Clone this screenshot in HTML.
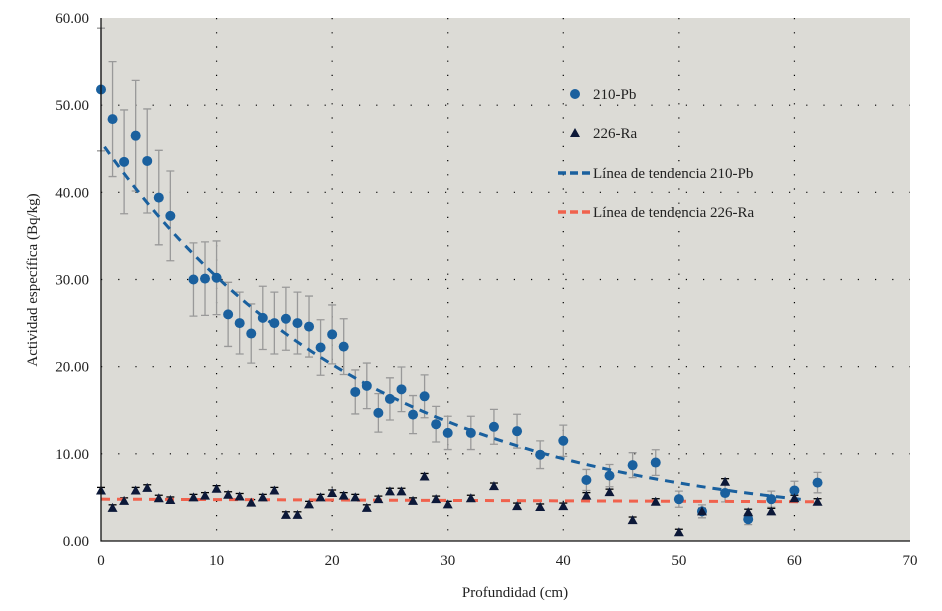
<!DOCTYPE html>
<html><head><meta charset="utf-8"><style>
body{margin:0;background:#fff;width:942px;height:606px;overflow:hidden}
text{font-family:"Liberation Serif",serif;fill:#222}
</style></head><body>
<svg id="chart" width="942" height="606" xmlns="http://www.w3.org/2000/svg">
<rect x="101" y="18" width="809" height="523" fill="#dcdbd6"/>
<g id="grid"></g><g id="marks"></g><g id="axes"></g>
<text x="515" y="597" text-anchor="middle" font-size="15">Profundidad (cm)</text>
<text transform="translate(37,280) rotate(-90)" text-anchor="middle" font-size="15">Actividad específica (Bq/kg)</text>
<g font-size="15">
<circle cx="575" cy="94" r="5" fill="#1a609e"/>
<text x="593" y="99">210-Pb</text>
<path d="M570,137 L575,128 L580,137 Z" fill="#0c1838"/>
<text x="593" y="138">226-Ra</text>
<line x1="558" y1="173" x2="590" y2="173" stroke="#1a609e" stroke-width="3.5" stroke-dasharray="8,4"/>
<text x="593" y="178">Línea de tendencia 210-Pb</text>
<line x1="558" y1="212" x2="590" y2="212" stroke="#f0624d" stroke-width="3.5" stroke-dasharray="8,4"/>
<text x="593" y="217">Línea de tendencia 226-Ra</text>
</g>
</svg>
<script>
const depths=[0,1,2,3,4,5,6,8,9,10,11,12,13,14,15,16,17,18,19,20,21,22,23,24,25,26,27,28,29,30,32,34,36,38,40,42,44,46,48,50,52,54,56,58,60,62];
const pb210=[51.8,48.4,43.5,46.5,43.6,39.4,37.3,30,30.1,30.2,26,25,23.8,25.6,25,25.5,25,24.6,22.2,23.7,22.3,17.1,17.8,14.7,16.3,17.4,14.5,16.6,13.4,12.4,12.4,13.1,12.6,9.9,11.5,7.0,7.5,8.7,9.0,4.8,3.4,5.5,2.5,4.8,5.8,6.7];
const ra226=[5.8,3.8,4.6,5.8,6.1,4.9,4.7,5.0,5.2,6.0,5.3,5.1,4.4,5.0,5.8,3.0,3.0,4.2,5.0,5.5,5.2,5.0,3.8,4.8,5.7,5.7,4.6,7.4,4.8,4.2,4.9,6.3,4.0,3.9,4.0,5.2,5.6,2.4,4.5,1.0,3.4,6.8,3.3,3.4,4.9,4.5];
const xTicks=[0,10,20,30,40,50,60,70];
const yTicks=[0,10,20,30,40,50,60];
const yTickLabels=["0.00","10.00","20.00","30.00","40.00","50.00","60.00"];
const pbTrend=[44.3,0.043,1.5];
const raTrend=[4.8,4.5];
const X=v=>101+v*(809/70), Y=v=>541-v*(523/60);
const NS="http://www.w3.org/2000/svg";
function mk(p,t,a){const e=document.createElementNS(NS,t);for(const k in a)e.setAttribute(k,a[k]);p.appendChild(e);return e;}
const grid=document.getElementById('grid'),marks=document.getElementById('marks'),axes=document.getElementById('axes');
xTicks.forEach(t=>{if(t>0&&t<70){const l=mk(grid,'line',{x1:X(t),x2:X(t),y1:18,y2:541,stroke:'#000','stroke-width':1.2,'stroke-dasharray':'1.2,13'});

}
const tx=mk(axes,'text',{x:X(t),y:565,'text-anchor':'middle','font-size':15});tx.textContent=t;

});
yTicks.forEach((t,i)=>{if(t>0&&t<60){const l=mk(grid,'line',{x1:101,x2:910,y1:Y(t),y2:Y(t),stroke:'#000','stroke-width':1.2,'stroke-dasharray':'1.2,16'});

}
const tx=mk(axes,'text',{x:89,y:Y(t)+5,'text-anchor':'end','font-size':15});tx.textContent=yTickLabels[i];

});
const ax=mk(axes,'path',{d:'M101,18 V541 H910',fill:'none',stroke:'#111','stroke-width':1.3});


depths.forEach((d,i)=>{const v=pb210[i],e=v*0.13+0.3;const g=mk(marks,'path',{d:`M${X(d)},${Y(v+e)}V${Y(v-e)}M${X(d)-4},${Y(v+e)}H${X(d)+4}M${X(d)-4},${Y(v-e)}H${X(d)+4}`,stroke:'#999',fill:'none','stroke-width':1.3});

});
depths.forEach((d,i)=>{const v=ra226[i],e=0.35;const g=mk(marks,'path',{d:`M${X(d)-4},${Y(v+e)}H${X(d)+4}`,stroke:'#000','stroke-width':1.3});

});
let p='';for(let d=0.3;d<=61;d+=0.5){p+=(p?'L':'M')+X(d)+','+Y(pbTrend[0]*Math.exp(-pbTrend[1]*d)+pbTrend[2]);}
const pt=mk(marks,'path',{d:p,fill:'none',stroke:'#1a609e','stroke-width':3,'stroke-dasharray':'9,7'});


const rt=mk(marks,'line',{x1:X(0),y1:Y(raTrend[0]),x2:X(62),y2:Y(raTrend[1]),stroke:'#f0624d','stroke-width':3,'stroke-dasharray':'9,7'});


depths.forEach((d,i)=>{const c=mk(marks,'circle',{cx:X(d),cy:Y(pb210[i]),r:5,fill:'#1a609e'});

});
depths.forEach((d,i)=>{const x=X(d),y=Y(ra226[i]);const t=mk(marks,'path',{d:`M${x-5},${y+4} L${x},${y-5} L${x+5},${y+4}Z`,fill:'#0c1838'});

});
</script>
</body></html>
